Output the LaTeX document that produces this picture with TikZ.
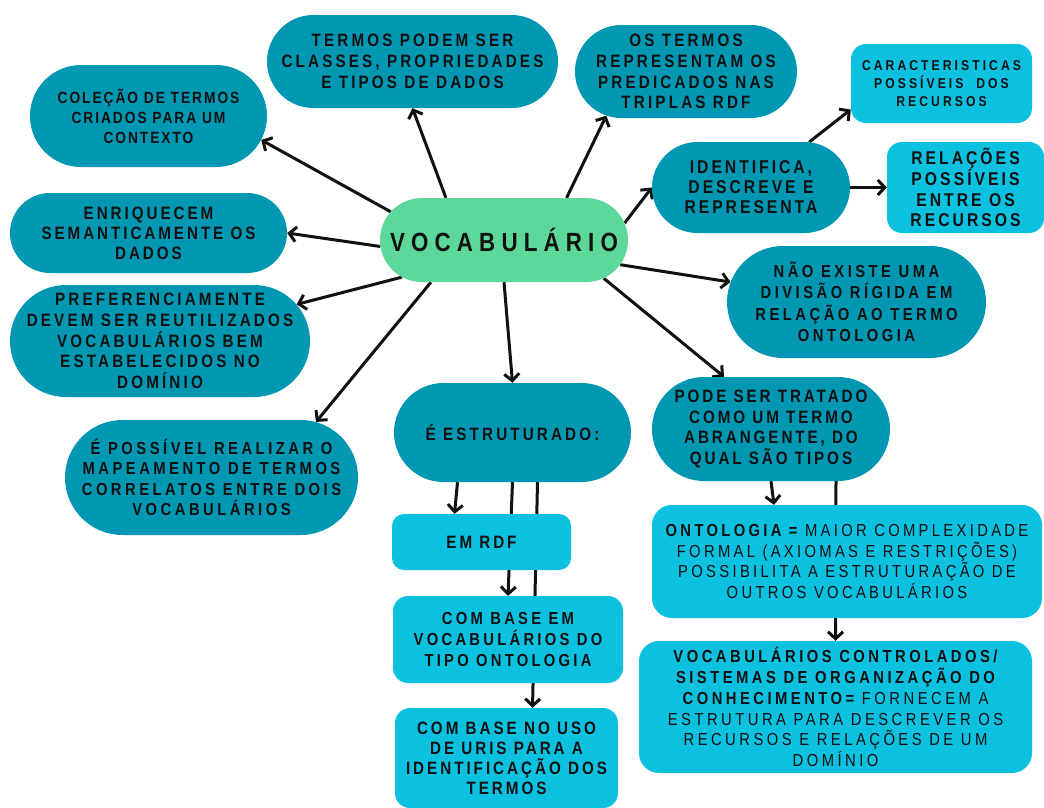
\documentclass[tikz,border=0pt]{standalone}
\usepackage{fontspec}
\usetikzlibrary{shapes.misc,arrows.meta}
\newfontfamily\mapfont[FakeStretch=0.85]{Liberation Sans}
% size, leading, letter spacing
\newcommand\mapsize[3]{\fontsize{#1}{#2}\selectfont\addfontfeatures{LetterSpace=#3}}
\definecolor{tealbox}{HTML}{0097B2}
\definecolor{cyanbox}{HTML}{0CC0DF}
\definecolor{mintbox}{HTML}{5CD89A}
\definecolor{ink}{HTML}{111111}
\pgfdeclarelayer{paper}
\pgfdeclarelayer{links}
\pgfsetlayers{paper,links,main}
\begin{document}
\begin{tikzpicture}[x=1pt,y=-1pt,
  pill/.style={rounded rectangle, fill=tealbox, inner sep=0pt, align=center, text=ink},
  card/.style={rectangle, rounded corners=#1, fill=cyanbox, inner sep=0pt, align=center, text=ink},
  card/.default=14pt,
  link/.style={draw=ink, line width=3pt, -{Straight Barb[length=7pt,width=15pt]}}
]
\useasboundingbox (0,0) rectangle (1044,807);
\begin{pgfonlayer}{paper}
  \fill[white] (0,0) rectangle (1044,807);
\end{pgfonlayer}

% central concept
\node[pill, fill=mintbox, minimum width=248, minimum height=84,
  font=\mapfont\bfseries\mapsize{26.3}{30}{23.4}] (ctr) at (504,240) {VOCABULÁRIO};

% left column
\node[pill, minimum width=237, minimum height=102,
  font=\mapfont\bfseries\mapsize{16.2}{20}{12}] (col) at (148.5,116)
  {COLEÇÃO DE TERMOS\\CRIADOS PARA UM\\CONTEXTO};
\node[pill, minimum width=277, minimum height=80,
  font=\mapfont\bfseries\mapsize{17.9}{20}{16.4}] (enr) at (148.5,233)
  {ENRIQUECEM\\SEMANTICAMENTE OS\\DADOS};
\node[pill, minimum width=300, minimum height=112,
  font=\mapfont\bfseries\mapsize{17.9}{20.8}{17.7}] (pre) at (160,341)
  {PREFERENCIAMENTE\\\makebox[225pt][c]{DEVEM SER REUTILIZADOS}\\VOCABULÁRIOS BEM\\ESTABELECIDOS NO\\DOMÍNIO};
\node[pill, minimum width=293, minimum height=115,
  font=\mapfont\bfseries\mapsize{17.4}{20.5}{20}] (pos) at (211.5,477.5)
  {É POSSÍVEL REALIZAR O\\MAPEAMENTO DE TERMOS\\CORRELATOS ENTRE DOIS\\VOCABULÁRIOS};

% top row
\node[pill, minimum width=291, minimum height=93,
  font=\mapfont\bfseries\mapsize{17.9}{21}{17.6}] (ter) at (412.5,61.5)
  {TERMOS PODEM SER\\CLASSES, PROPRIEDADES\\E TIPOS DE DADOS};
\node[pill, minimum width=222, minimum height=93,
  font=\mapfont\bfseries\mapsize{17.9}{20.7}{17.7}] (ost) at (686,71.5)
  {OS TERMOS\\REPRESENTAM OS\\PREDICADOS NAS\\TRIPLAS RDF};

% right side
\node[pill, minimum width=198, minimum height=91,
  font=\mapfont\bfseries\mapsize{18.5}{20}{16}] (idf) at (751,187.5)
  {IDENTIFICA,\\DESCREVE E\\REPRESENTA};
\node[card=15pt, minimum width=181, minimum height=79,
  font=\mapfont\bfseries\mapsize{14.3}{18}{21.4}] (car) at (941.5,83.5)
  {CARACTERISTICAS\\POSSÍVEIS\ \ DOS\\RECURSOS};
\node[card=15pt, minimum width=157, minimum height=91,
  font=\mapfont\bfseries\mapsize{18.5}{20.7}{16.3}] (rel) at (965.5,187.5)
  {RELAÇÕES\\POSSÍVEIS\\ENTRE OS\\RECURSOS};
\node[pill, minimum width=259, minimum height=112,
  font=\mapfont\bfseries\mapsize{17.4}{21.5}{20}] (nao) at (856.5,302)
  {NÃO EXISTE UMA\\DIVISÃO RÍGIDA EM\\RELAÇÃO AO TERMO\\ONTOLOGIA};
\node[pill, minimum width=238, minimum height=104,
  font=\mapfont\bfseries\mapsize{17.9}{20.5}{16.3}] (pod) at (771,429)
  {PODE SER TRATADO\\COMO UM TERMO\\ABRANGENTE, DO\\QUAL SÃO TIPOS};
\node[card=20pt, minimum width=390, minimum height=113,
  font=\mapfont\mapsize{17.4}{20.8}{19.1}] (ont) at (847,561.5)
  {{\bfseries ONTOLOGIA =} MAIOR COMPLEXIDADE\\FORMAL (AXIOMAS E RESTRIÇÕES)\\POSSIBILITA A ESTRUTURAÇÃO DE\\OUTROS VOCABULÁRIOS};
\node[card=20pt, minimum width=393, minimum height=132,
  font=\mapfont\mapsize{17.4}{20.8}{20}] (voc) at (835.5,707)
  {{\bfseries VOCABULÁRIOS CONTROLADOS/}\\{\bfseries SISTEMAS DE ORGANIZAÇÃO DO}\\{\bfseries CONHECIMENTO=} FORNECEM A\\ESTRUTURA PARA DESCREVER OS\\RECURSOS E RELAÇÕES DE UM\\DOMÍNIO};

% middle column
\node[pill, minimum width=237, minimum height=99,
  font=\mapfont\bfseries\mapsize{17.9}{20}{17.6}] (est) at (512.5,432.5) {É ESTRUTURADO:};
\node[card=12pt, minimum width=179, minimum height=56,
  font=\mapfont\bfseries\mapsize{17.9}{20}{16.4}] (rdf) at (481.5,542) {EM RDF};
\node[card=15pt, minimum width=230, minimum height=87,
  font=\mapfont\bfseries\mapsize{17.4}{21}{18.7}] (cbe) at (508,639.5)
  {COM BASE EM\\VOCABULÁRIOS DO\\TIPO ONTOLOGIA};
\node[card=15pt, minimum width=223, minimum height=100,
  font=\mapfont\bfseries\mapsize{17.9}{20}{16.6}] (cbn) at (506.5,758)
  {COM BASE NO USO\\DE URIS PARA A\\IDENTIFICAÇÃO DOS\\TERMOS};

% connectors, drawn beneath the boxes
\begin{pgfonlayer}{links}
  \draw[link] (ctr.166) -- (col.348);
  \draw[link] (ctr.144) -- (ter.south);
  \draw[link] (ctr.34.5) -- (ost.209);
  \draw[link] (ctr.8.5) -- (idf.west);
  \draw[link] (ctr.183) -- (enr.east);
  \draw[link] (ctr.200) -- (pre.15);
  \draw[link] (ctr.210) -- (pos.28);
  \draw[link] (ctr.south) -- (est.north);
  \draw[link] (ctr.348) -- (nao.171);
  \draw[link] (ctr.339) -- (pod.132);
  \draw[link] (idf.38.6) -- (car.196);
  \draw[link] (idf.east) -- (rel.west);
  \draw[link] ([xshift=-55pt]est.south) -- ([xshift=-27pt]rdf.north);
  \draw[link] (est.south) -- (cbe.north);
  \draw[link] ([xshift=25pt]est.south) -- ([xshift=26pt]cbn.north);
  \draw[link] (pod.south) -- ([xshift=-73pt]ont.north);
  \draw[link] ([xshift=65pt]pod.south) -- (voc.north);
\end{pgfonlayer}
\end{tikzpicture}
\end{document}
